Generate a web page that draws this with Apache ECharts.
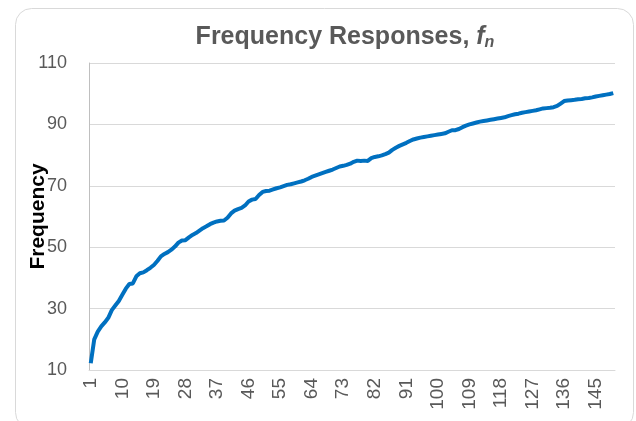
<!DOCTYPE html>
<html>
<head>
<meta charset="utf-8">
<script src="https://cdn.jsdelivr.net/npm/echarts@6/dist/echarts.min.js"></script>
<style>
  html, body { margin: 0; padding: 0; background: #fff; }
  #freq-chart { width: 636px; height: 421px; }
</style>
</head>
<body>
<div id="freq-chart"></div>
<script>
// responses f_n, n = 1..150
const responses = [
  12.2, 20.0, 22.5, 24.2, 25.5, 27.0, 29.5, 31.0, 32.5, 34.5,
  36.5, 38.0, 38.2, 40.5, 41.5, 41.8, 42.5, 43.3, 44.2, 45.5,
  47.0, 47.8, 48.4, 49.2, 50.2, 51.5, 52.2, 52.3, 53.2, 54.0,
  54.6, 55.4, 56.2, 56.8, 57.5, 58.0, 58.4, 58.6, 58.7, 59.6,
  61.0, 61.9, 62.4, 62.8, 63.6, 64.9, 65.5, 65.7, 67.0, 68.0,
  68.3, 68.4, 68.8, 69.2, 69.5, 69.9, 70.3, 70.5, 70.8, 71.1,
  71.4, 71.8, 72.3, 72.9, 73.3, 73.7, 74.1, 74.5, 74.9, 75.3,
  75.8, 76.3, 76.5, 76.8, 77.2, 77.8, 78.2, 78.1, 78.2, 78.1,
  79.0, 79.4, 79.6, 79.9, 80.3, 80.8, 81.7, 82.4, 83.0, 83.5,
  84.0, 84.6, 85.1, 85.4, 85.7, 85.9, 86.1, 86.3, 86.5, 86.7,
  86.9, 87.1, 87.6, 88.1, 88.1, 88.5, 89.1, 89.6, 90.0, 90.3,
  90.6, 90.9, 91.1, 91.3, 91.5, 91.7, 91.9, 92.1, 92.3, 92.7,
  93.0, 93.3, 93.5, 93.8, 94.0, 94.2, 94.4, 94.6, 94.9, 95.2,
  95.3, 95.4, 95.6, 96.0, 96.8, 97.6, 97.8, 97.9, 98.0, 98.2,
  98.3, 98.5, 98.6, 98.8, 99.1, 99.3, 99.5, 99.7, 99.9, 100.2
];
const steps = responses.map((v, i) => String(i + 1));
const yMin = 10, yMax = 110, yStep = 20;

const chart = echarts.init(document.getElementById("freq-chart"));
const font = "Liberation Sans";

const option = {
  animation: false,
  backgroundColor: "#fff",
  graphic: [
    {
      type: "rect",
      shape: { x: 15.5, y: 8.5, width: 618, height: 420, r: 16 },
      style: { fill: "none", stroke: "#d9d9d9", lineWidth: 1 },
      silent: true,
    },
  ],
  title: {
    text: "{t|Frequency Responses, }{f|f}{n|n}",
    left: 340,
    textAlign: "center",
    top: 18,
    textStyle: {
      fontWeight: "bold",
      rich: {
        t: { fontFamily: font, fontSize: 25, fontWeight: "bold", color: "#595959" },
        f: { fontFamily: font, fontSize: 25, fontWeight: "bold", fontStyle: "italic", color: "#595959" },
        n: { fontFamily: font, fontSize: 16, fontWeight: "bold", fontStyle: "italic", color: "#595959", padding: [12, 0, 0, 0] },
      },
    },
  },
  grid: { left: 89, right: 21, top: 63, bottom: 51, containLabel: false },
  xAxis: {
    type: "category",
    data: steps,
    boundaryGap: true,
    axisLine: { lineStyle: { color: "#d9d9d9" } },
    axisTick: { show: false },
    axisLabel: {
      interval: 8,
      rotate: 90,
      fontFamily: font,
      fontSize: 19,
      color: "#595959",
      margin: 8,
    },
  },
  yAxis: {
    type: "value",
    min: yMin,
    max: yMax,
    interval: yStep,
    name: "Frequency",
    nameLocation: "middle",
    nameRotate: 90,
    nameGap: 40,
    nameMoveOverlap: false,
    nameTextStyle: { fontFamily: font, fontSize: 21, fontWeight: "bold", color: "#000" },
    axisLine: { show: true, lineStyle: { color: "#bfbfbf" } },
    axisTick: { show: false },
    splitLine: { lineStyle: { color: "#d9d9d9" } },
    axisLabel: { fontFamily: font, fontSize: 18, color: "#595959", margin: 22 },
  },
  series: [
    {
      name: "f_n",
      type: "line",
      data: responses,
      symbol: "none",
      lineStyle: { color: "#0070c0", width: 4 },
    },
  ],
};

chart.setOption(option);
window.onresize = function () {
  chart.resize();
};
</script>
</body>
</html>
